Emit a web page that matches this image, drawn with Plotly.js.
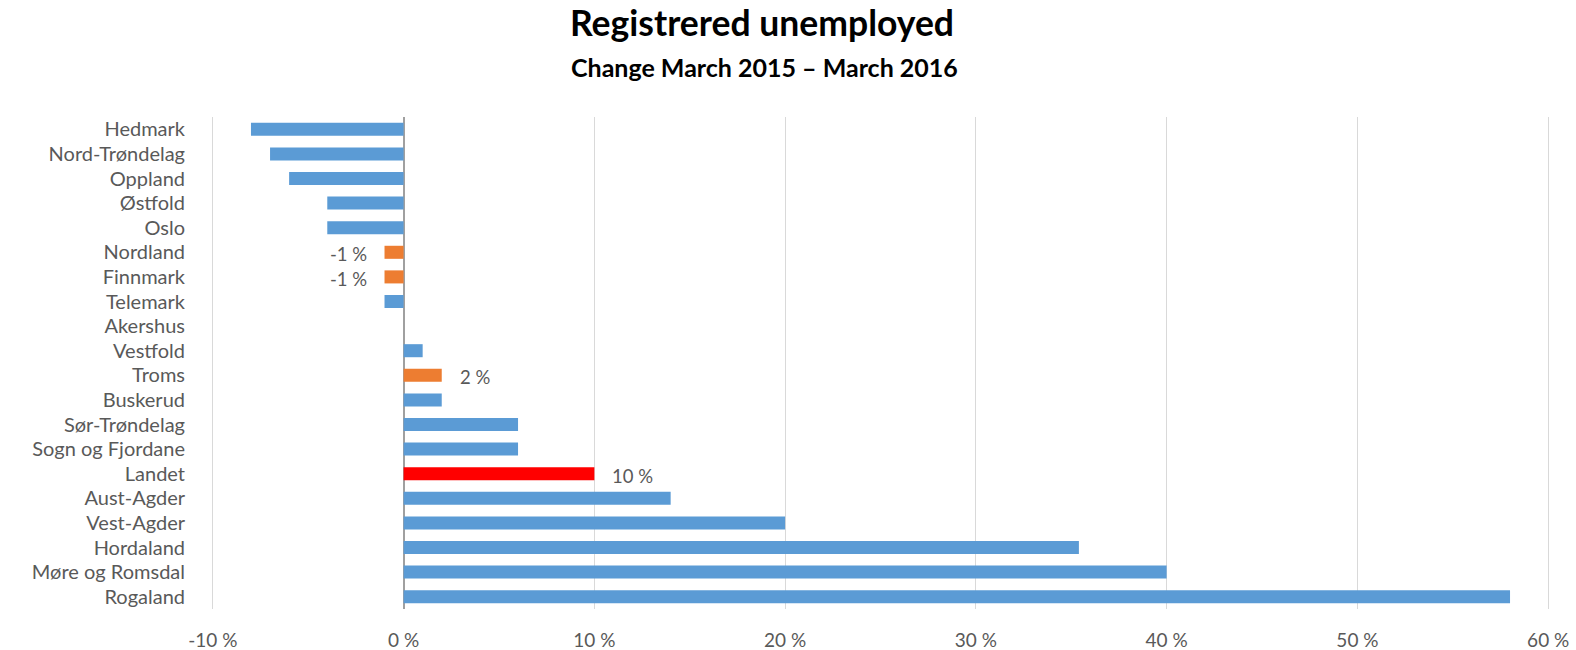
<!DOCTYPE html>
<html>
<head>
<meta charset="utf-8">
<script src="https://cdn.plot.ly/plotly-3.0.1.min.js"></script>
<style>html,body{margin:0;padding:0;background:#fff;}#chart{width:1576px;height:650px;}</style>
</head>
<body>
<div id="chart"></div>
<script>
const categories = ['Hedmark','Nord-Trøndelag','Oppland','Østfold','Oslo','Nordland','Finnmark','Telemark','Akershus','Vestfold','Troms','Buskerud','Sør-Trøndelag','Sogn og Fjordane','Landet','Aust-Agder','Vest-Agder','Hordaland','Møre og Romsdal','Rogaland'];
const values = [-8, -7, -6, -4, -4, -1, -1, -1, 0, 1, 2, 2, 6, 6, 10, 14, 20, 35.4, 40, 58];
const labelled = ['Nordland','Finnmark','Troms','Landet'];
const nationalTotal = 'Landet';
const tickValues = [-10, 0, 10, 20, 30, 40, 50, 60];
const tickLabels = ['-10 %','0 %','10 %','20 %','30 %','40 %','50 %','60 %'];
const titleText = 'Registrered unemployed';
const subtitleText = 'Change March 2015 – March 2016';

const FONT = 'Lato, "Open Sans", sans-serif';
const colors = categories.map(c => c === nationalTotal ? '#FF0000' : (labelled.includes(c) ? '#ED7D31' : '#5B9BD5'));

const annotations = categories.filter(c => labelled.includes(c)).map(c => {
  const v = values[categories.indexOf(c)];
  return {
    x: v, y: c, xref: 'x', yref: 'y',
    text: (Math.round(v)) + ' %',
    showarrow: false,
    xanchor: v < 0 ? 'right' : 'left',
    xshift: v < 0 ? -16 : 16,
    yshift: -2,
    font: {family: FONT, size: 18.5, color: '#595959'}
  };
});
annotations.push({
  xref: 'paper', yref: 'paper', x: 0.4137, y: 1.1016,
  xanchor: 'center', yanchor: 'middle', showarrow: false,
  text: '<b>' + subtitleText + '</b>',
  font: {family: FONT, size: 25, color: '#000000'}
});

const trace = {
  type: 'bar', orientation: 'h',
  y: categories, x: values,
  marker: {color: colors, line: {width: 0}},
  width: 0.53,
  hoverinfo: 'x+y'
};

const layout = {
  width: 1576, height: 650,
  paper_bgcolor: '#ffffff', plot_bgcolor: '#ffffff',
  margin: {l: 209, r: 24, t: 117, b: 41},
  showlegend: false,
  title: {
    text: '<b>' + titleText + '</b>',
    xref: 'container', yref: 'container', x: 0.4835, y: 0.963,
    xanchor: 'center', yanchor: 'middle',
    font: {family: FONT, size: 35.5, color: '#000000'}
  },
  xaxis: {
    range: [-10.2, 60.2], fixedrange: true,
    tickvals: tickValues, ticktext: tickLabels,
    showgrid: true, gridcolor: '#D9D9D9', gridwidth: 1,
    zeroline: true, zerolinecolor: '#A0A0A0', zerolinewidth: 2,
    showline: false, ticks: '',
    ticklabelstandoff: 18,
    tickfont: {family: FONT, size: 19, color: '#595959'}
  },
  yaxis: {
    type: 'category', autorange: 'reversed',
    showgrid: false, zeroline: false, showline: false, ticks: '',
    ticklabelstandoff: 23,
    tickfont: {family: FONT, size: 20, color: '#595959'}
  },
  annotations: annotations
};

Plotly.newPlot('chart', [trace], layout, {displayModeBar: false, staticPlot: true});
</script>
</body>
</html>
